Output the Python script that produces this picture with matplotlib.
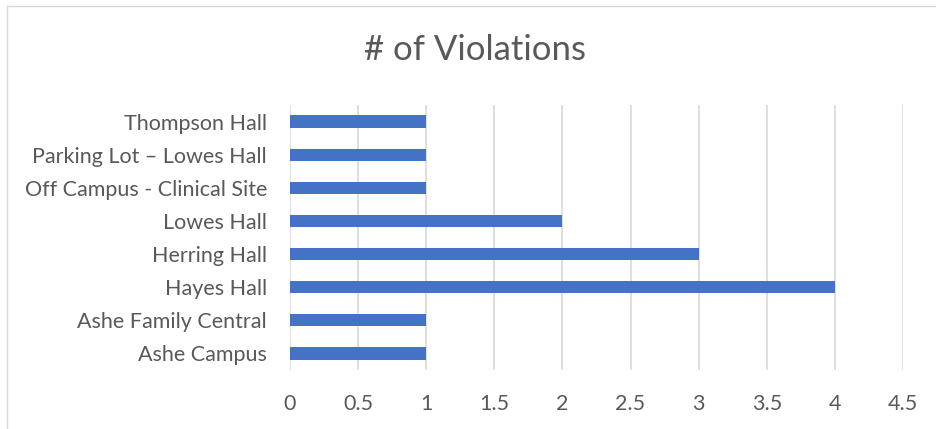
import matplotlib
matplotlib.use("Agg")
import matplotlib.pyplot as plt
from matplotlib.lines import Line2D

categories = ["Ashe Campus", "Ashe Family Central", "Hayes Hall", "Herring Hall",
              "Lowes Hall", "Off Campus - Clinical Site", "Parking Lot \u2013 Lowes Hall",
              "Thompson Hall"]
values = [1, 1, 4, 3, 2, 1, 1, 1]
xticks = [0, 0.5, 1, 1.5, 2, 2.5, 3, 3.5, 4, 4.5]
xticklabels = ["0", "0.5", "1", "1.5", "2", "2.5", "3", "3.5", "4", "4.5"]
title = "# of Violations"

plt.rcParams['font.family'] = ['Lato', 'DejaVu Sans']
txt = "#595959"

fig = plt.figure(figsize=(9.36, 4.29), dpi=100)
ax = fig.add_axes([290/936, 1 - 370/429, (903-290)/936, (370-105)/429])

ax.barh(range(len(categories)), values, height=0.37, color="#4472C4", zorder=3)
ax.set_ylim(-0.5, len(categories) - 0.5)
ax.set_xlim(0, 4.5)
ax.set_xticks(xticks)
ax.set_xticklabels(xticklabels)
ax.set_yticks(range(len(categories)))
ax.set_yticklabels(categories)
ax.grid(axis='x', color="#D9D9D9", linewidth=1.2, zorder=0)
for s in ax.spines.values():
    s.set_visible(False)
ax.tick_params(axis='both', length=0, colors=txt, labelsize=15.5)
ax.tick_params(axis='x', pad=17)
ax.tick_params(axis='y', pad=16.5)

fig.text(475/936, 1 - 50/429, title, ha='center', va='center', fontsize=25, color=txt)

# chart frame (top and left edges)
fig.add_artist(Line2D([7/936, 1], [1 - 6/429, 1 - 6/429], transform=fig.transFigure, color="#D9D9D9", linewidth=1))
fig.add_artist(Line2D([7/936, 7/936], [0, 1 - 6/429], transform=fig.transFigure, color="#D9D9D9", linewidth=1))

fig.savefig("out.png", dpi=100)
